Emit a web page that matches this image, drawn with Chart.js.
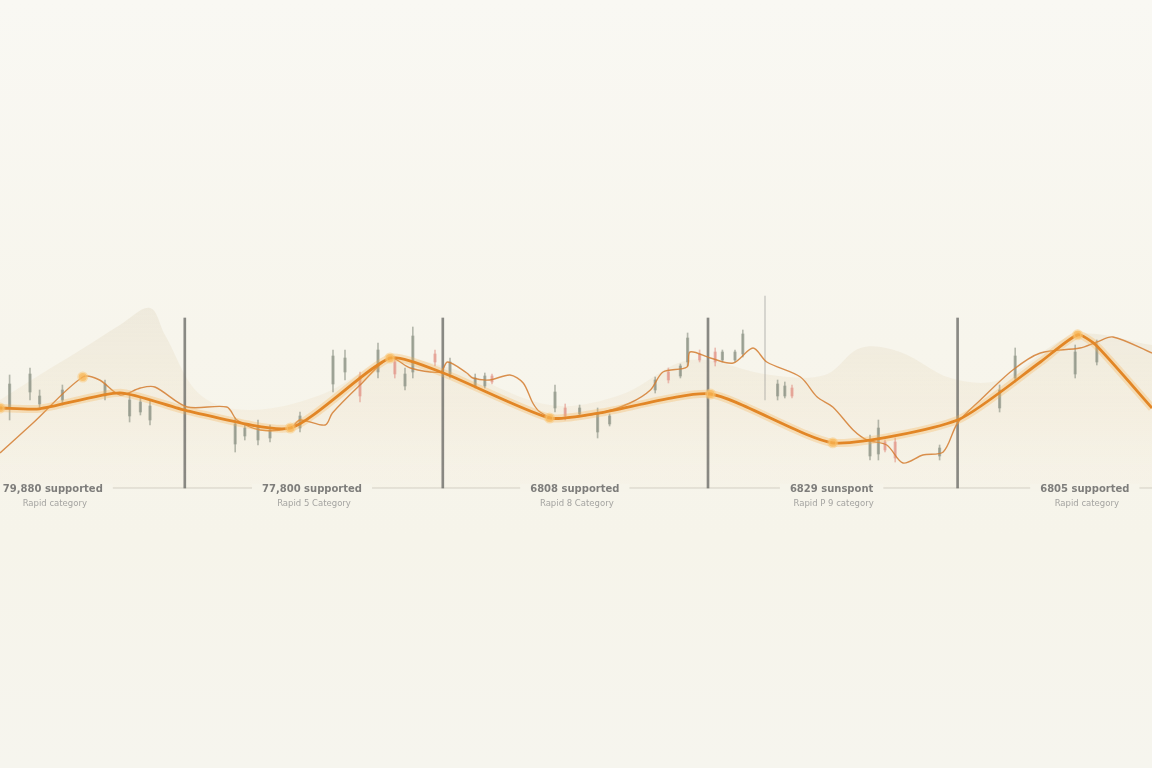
<!DOCTYPE html>
<html>
<head>
<meta charset="utf-8">
<script src="https://cdn.jsdelivr.net/npm/chart.js@4.4.1/dist/chart.umd.min.js"></script>
<style>
  html, body { margin: 0; padding: 0; }
  body {
    width: 1152px; height: 768px; overflow: hidden;
    background: linear-gradient(180deg, #f9f8f3 0%, #f7f5ec 45%, #f6f4ea 70%, #f6f5ee 100%);
  }
  #wrap { width: 1152px; height: 768px; position: relative; }
</style>
</head>
<body>
<div id="wrap"><canvas id="myChart"></canvas></div>
<script>
// Trend line (smoothed) – time index vs price
const trendX = [0, 3.3, 10, 15.6, 24.2, 32.5, 36.9, 45.8, 50, 59.2, 69.4, 79.8, 86.7, 89.8, 91.3, 96];
const trendY = [90, 89.8, 93.8, 89.3, 85, 102.5, 98.8, 87.5, 88.8, 93.5, 81.3, 87, 101.5, 108.3, 105.8, 90];

// Detailed price line
const priceX = [0, 2.75, 6.9, 8.3, 10, 11.7, 12.9, 15.6, 18.9, 19.75, 21.7, 24.2, 25, 27.1, 27.7, 30, 32.5, 34.2, 36.7,
  37.3, 38.9, 39.4, 40.8, 42.5, 43.6, 44.4, 45, 46.25, 50, 52.5, 54.2, 55.25, 57.25, 57.5, 59.2, 61.1, 62.75, 63.9,
  66.7, 68.1, 69.4, 71.1, 72.25, 73.9, 75.25, 76.9, 78.6, 79.8, 81.7, 84.4, 86.7, 90, 91.4, 92.75, 96];
const priceY = [78.75, 86.25, 97.75, 97, 93.25, 95, 95.25, 90.25, 90.25, 87, 84.5, 85, 87, 85.75, 88.75, 95.75, 102.5, 100, 99,
  101.5, 98.75, 97.5, 97, 98.25, 96.25, 91.25, 89, 87.5, 88.75, 91.25, 94.5, 99, 100.25, 104, 102.5, 101.25, 105, 101.5,
  97.75, 92.75, 90.25, 84.5, 82, 80.75, 76.25, 78.25, 79, 86.25, 92, 99.5, 103.75, 105, 106.5, 107.75, 103.75];

// Highlighted points
const markX = [0, 6.9, 24.2, 32.5, 45.8, 59.2, 69.4, 89.8];
const markY = [90, 97.75, 85, 102.5, 87.5, 93.5, 81.3, 108.3];

// Background haze (volume profile)
const hazeX = [0, 3.3, 6.7, 10, 12.5, 13.75, 16.7, 20.8, 26.7, 32.5, 37.5, 45.8, 51.7, 57.5, 64.2, 68.75, 71.7, 75, 79.2, 83.3, 89.6, 96];
const hazeY = [92, 98.25, 104.5, 110.75, 115, 108.25, 93.25, 89.5, 93.25, 102, 100, 90.75, 93.25, 102, 98.25, 98.25, 105, 104, 97.5, 97, 108.25, 105.75];

// Candles
const candleX = [0.8, 2.5, 3.3, 5.2, 8.75, 10.8, 11.7, 12.5, 19.6, 20.4, 21.5, 22.5, 25, 27.75, 28.75, 30, 31.5, 32.9, 33.75, 34.4,
  36.25, 37.5, 39.6, 40.4, 41, 46.25, 47.1, 48.3, 49.8, 50.8, 54.6, 55.7, 56.7, 57.3, 58.3, 59.6, 60.2, 61.25, 61.9,
  64.8, 65.4, 66, 72.5, 73.2, 73.75, 74.6, 78.3, 83.3, 84.6, 89.6, 91.4];
const candleHigh = [98.25, 100, 94.5, 95.75, 97, 93.25, 92.5, 92, 87.5, 85.75, 87, 85.75, 89, 104.5, 104.5, 99, 106.25, 102.5, 100, 110.25,
  104.5, 102.5, 98.5, 98.75, 98.5, 95.75, 91, 90.75, 90, 88.5, 97.75, 100, 101, 108.75, 104.5, 105, 104.5, 104.5, 109.5,
  97, 96.5, 95.75, 83.25, 87, 82, 82.5, 80.75, 95.75, 105, 105.75, 107];
const candleLow = [87, 92, 90, 90.75, 92, 86.5, 88.25, 85.75, 79, 82, 80.75, 81.5, 84, 94, 97, 91.5, 97.5, 97.5, 94.5, 97.5,
  100.5, 97.5, 95, 95, 96, 89, 87, 88, 82.5, 85.5, 93.75, 96.25, 97.5, 100.5, 101.5, 100.5, 101.5, 101.5, 102.75,
  92, 92.5, 92.5, 77, 77, 79, 76.5, 77, 89, 96.5, 97.5, 100.75];
const candleOpen = [90, 94, 91, 92, 93, 88, 89, 87, 81, 83, 82, 82.5, 85, 96, 99, 98, 99, 101.5, 95.5, 99,
  103.5, 98.5, 95.5, 95.5, 98, 90, 90, 88.5, 84, 86, 94.5, 99, 98, 101.5, 103.5, 104, 102, 102, 103.5,
  93, 93, 95, 78, 78.5, 81.5, 81.5, 78, 90, 97.5, 98.5, 101.5];
const candleClose = [96, 98.5, 93, 94.5, 96, 92, 91.5, 90.5, 86, 85, 85.5, 84.5, 88, 103, 102.5, 93, 104.5, 98.5, 98.5, 108,
  101.5, 101.5, 97.5, 98, 96.5, 94, 88, 90, 88.5, 88, 97, 97, 100.5, 107.5, 102, 101.5, 104, 104, 108.5,
  96, 95.5, 93, 82, 85, 79.5, 77.5, 80, 94.5, 103, 104, 105.5];

// Session dividers
const dividerX = [15.4, 36.9, 59, 79.8];
const dividerTop = [112.5, 112.5, 112.5, 112.5];
const faintDividerX = [63.75];
const faintDividerTop = [118];
const faintDividerBottom = [92];

// Baseline and labels
const baseValue = 70;
const labelX = [4.4, 26, 47.9, 69.3, 90.4];
const labelMain = ['79,880 supported', '77,800 supported', '6808 supported', '6829 sunspont', '6805 supported'];
const labelSub = ['Rapid category', 'Rapid 5 Category', 'Rapid 8 Category', 'Rapid P 9 category', 'Rapid category'];

const pts = (xs, ys) => xs.map((x, i) => ({ x: x, y: ys[i] }));
const up = (i) => candleClose[i] >= candleOpen[i];
const candleColor = (ctx) => up(ctx.dataIndex) ? 'rgba(135,142,128,0.6)' : 'rgba(224,140,128,0.55)';

const labelPlugin = {
  id: 'bottomLabels',
  afterDatasetsDraw(chart) {
    const { ctx, scales: { x, y } } = chart;
    const py = y.getPixelForValue(baseValue);
    ctx.save();
    ctx.textAlign = 'center';
    ctx.textBaseline = 'middle';
    labelX.forEach((v, i) => {
      const px = x.getPixelForValue(v);
      ctx.font = 'bold 10px "DejaVu Sans"';
      const w = ctx.measureText(labelMain[i]).width;
      ctx.fillStyle = '#f6f4ea';
      ctx.fillRect(px - w / 2 - 10, py - 4, w + 20, 8);
      ctx.fillStyle = 'rgba(85,85,85,0.75)';
      ctx.fillText(labelMain[i], px, py + 1);
      ctx.font = '8.5px "DejaVu Sans"';
      ctx.fillStyle = 'rgba(130,130,130,0.7)';
      ctx.fillText(labelSub[i], px + 2, py + 16);
    });
    ctx.restore();
  }
};

const hazeFill = (ctx) => {
  const area = ctx.chart.chartArea;
  if (!area) return 'rgba(236,222,195,0.3)';
  const g = ctx.chart.ctx.createLinearGradient(0, 300, 0, 490);
  g.addColorStop(0, 'rgba(228,220,200,0.45)');
  g.addColorStop(0.6, 'rgba(240,228,205,0.35)');
  g.addColorStop(1, 'rgba(246,238,222,0.2)');
  return g;
};

const config = {
  type: 'bar',
  data: {
    datasets: [
      {
        type: 'line', label: 'haze', data: pts(hazeX, hazeY),
        borderWidth: 0, pointRadius: 0, tension: 0.35,
        fill: { value: baseValue }, backgroundColor: hazeFill, order: 10
      },
      {
        type: 'line', label: 'baseline', data: [{ x: 0, y: baseValue }, { x: 96, y: baseValue }],
        borderColor: 'rgba(175,172,162,0.5)', borderWidth: 1, pointRadius: 0, order: 9
      },
      {
        label: 'wicks', data: candleX.map((x, i) => ({ x: x, y: [candleLow[i], candleHigh[i]] })),
        backgroundColor: candleColor, barThickness: 1, grouped: false, order: 8
      },
      {
        label: 'bodies', data: candleX.map((x, i) => ({ x: x, y: [candleOpen[i], candleClose[i]] })),
        backgroundColor: candleColor, barThickness: 2.5, grouped: false, order: 7
      },
      {
        label: 'dividers', data: dividerX.map((x, i) => ({ x: x, y: [baseValue, dividerTop[i]] })),
        backgroundColor: 'rgba(100,100,96,0.75)', barThickness: 2, grouped: false, order: 6
      },
      {
        label: 'faint divider', data: faintDividerX.map((x, i) => ({ x: x, y: [faintDividerBottom[i], faintDividerTop[i]] })),
        backgroundColor: 'rgba(150,150,145,0.4)', barThickness: 1, grouped: false, order: 6
      },
      {
        type: 'line', label: 'price', data: pts(priceX, priceY),
        borderColor: 'rgba(212,124,48,0.85)', borderWidth: 1.4, pointRadius: 0, tension: 0.3, order: 3
      },
      {
        type: 'line', label: 'trend glow', data: pts(trendX, trendY),
        borderColor: 'rgba(246,176,80,0.3)', borderWidth: 8, pointRadius: 0, tension: 0.2, order: 2
      },
      {
        type: 'line', label: 'trend', data: pts(trendX, trendY),
        borderColor: 'rgb(226,134,38)', borderWidth: 2.8, pointRadius: 0, tension: 0.2, order: 1
      },
      {
        type: 'scatter', label: 'marks', data: pts(markX, markY),
        backgroundColor: 'rgba(248,178,80,0.8)', borderColor: 'rgba(250,200,120,0.5)', borderWidth: 3,
        pointRadius: 4, order: 0
      }
    ]
  },
  options: {
    responsive: true,
    maintainAspectRatio: false,
    animation: false,
    layout: { padding: 0, autoPadding: false },
    plugins: { legend: { display: false }, tooltip: { enabled: false }, title: { display: false } },
    scales: {
      x: { type: 'linear', min: 0, max: 96, offset: false, display: false },
      y: { type: 'linear', min: 0, max: 192, display: false }
    }
  },
  plugins: [labelPlugin]
};

const myChart = new Chart(document.getElementById('myChart'), config);
</script>
</body>
</html>
